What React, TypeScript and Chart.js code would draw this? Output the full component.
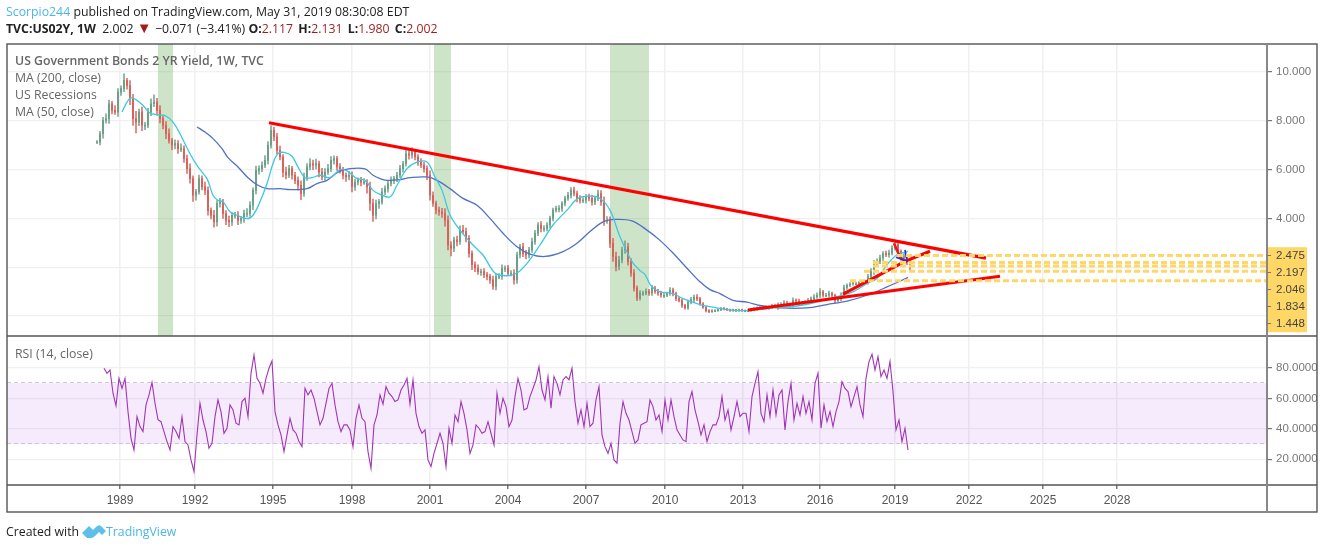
import React, { useEffect, useRef } from "react";
import { Chart, registerables } from "chart.js";

Chart.register(...registerables);

// x axis is measured in bar slots of the time axis
const xTickSlots = [120, 195, 273, 352, 430, 508, 586, 665, 743, 820, 895, 969, 1043, 1117];
const xTickLabels = ["1989", "1992", "1995", "1998", "2001", "2004", "2007", "2010", "2013", "2016", "2019", "2022", "2025", "2028"];
const priceTicks = [10, 8, 6, 4, 2, 0];
const rsiTicks = [80, 60, 40, 20];

const candleStart = 97;
const candleStep = 3;
const closes = [
  7.13, 7.47, 8.02, 8.09, 8.70, 8.43, 8.36, 9.18, 9.32, 9.66, 9.45, 8.91, 8.09, 7.95, 8.36, 7.82, 7.82, 8.36, 8.70, 8.77,
  8.43, 8.09, 7.82, 7.47, 7.20, 7.00, 7.07, 6.86, 6.86, 6.45, 6.04, 5.63, 4.95, 5.09, 5.63, 5.29, 5.15, 4.33, 4.13, 3.86,
  4.61, 4.68, 4.20, 3.92, 3.86, 4.13, 4.13, 3.92, 3.99, 4.20, 4.20, 4.54, 5.15, 5.97, 6.04, 6.18, 6.38, 7.00, 7.61, 7.34,
  6.79, 6.52, 5.90, 5.77, 6.04, 5.77, 5.56, 5.36, 5.02, 5.70, 6.11, 6.25, 6.18, 6.25, 5.90, 5.70, 5.90, 6.04, 6.38, 6.45,
  6.11, 5.97, 5.77, 5.70, 5.77, 5.29, 5.49, 5.56, 5.49, 5.49, 5.29, 4.61, 4.13, 4.61, 4.68,
  5.09, 5.22, 5.43, 5.56, 5.63, 5.77, 6.04, 6.24, 6.65, 6.59, 6.72, 6.52, 6.31, 6.18, 6.04, 5.77, 4.95, 4.61, 4.34, 4.27,
  4.20, 3.93, 2.91, 2.78, 3.12, 3.05, 3.52, 3.46, 3.18, 2.57, 2.10, 1.96, 1.82, 1.82, 1.69, 1.62, 1.48, 1.21, 1.62, 1.62,
  1.96, 1.96, 1.76, 1.76, 1.48, 2.50, 2.84, 2.57, 2.50, 2.71, 3.05, 3.39, 3.73, 3.59, 3.59, 3.73, 4.00, 4.34, 4.41, 4.41,
  4.61, 4.82, 4.95, 5.16, 5.02, 4.82, 4.75, 4.75, 4.88, 4.82, 4.68, 4.82, 5.02, 4.68, 3.93, 3.93, 2.98, 2.44, 2.03, 2.30,
  2.71, 2.84, 2.23, 1.76, 1.14, 0.73, 0.94, 0.94, 1.01, 0.94, 1.14, 1.01, 0.94,
  0.85, 0.85, 0.92, 1.06, 0.92, 0.71, 0.64, 0.43, 0.33, 0.57, 0.67, 0.78, 0.71, 0.50, 0.36, 0.22, 0.18, 0.22, 0.22, 0.25,
  0.32, 0.28, 0.25, 0.22, 0.25, 0.22, 0.25, 0.22, 0.22, 0.22, 0.25, 0.29, 0.33, 0.33, 0.36, 0.33, 0.36, 0.43, 0.43, 0.47,
  0.47, 0.53, 0.47, 0.43, 0.64, 0.61, 0.50, 0.53, 0.57, 0.64, 0.71, 0.78, 0.85, 0.99, 0.85, 0.85, 0.92, 0.85, 0.64, 0.71,
  0.85, 1.17, 1.26, 1.31, 1.33, 1.33, 1.36, 1.40, 1.40, 1.61, 1.82, 2.17, 2.24, 2.38, 2.56, 2.51, 2.58, 2.79, 2.93, 2.65,
  2.38, 2.44, 2.24, 2.00,
];
const upperWicks = [
  .06, .1, .12, .2, .15, .1, .2, .14, .12, .27, .08, .2, .18, .3, .12, .2, .12, .15, .2, .3,
  .15, .2, .12, .15, .2, .08, .15, .12, .2, .12, .15, .2, .12, .1, .15, .12, .2, .15, .1, .2,
  .12, .14, .1, .12, .18, .1, .12, .15, .1, .14, .2, .15, .1, .18, .12, .14, .2, .15, .2, .12,
  .15, .18, .1, .2, .14, .1, .12, .15, .18, .16, .14, .2, .14, .18, .1, .15, .14, .18, .16, .12,
  .1, .14, .12, .1, .16, .14, .12, .1, .12, .14, .1, .2, .18, .14, .1,
  .14, .12, .1, .14, .1, .12, .14, .1, .14, .12, .18, .12, .1, .14, .12, .12, .18, .14, .1, .12,
  .14, .2, .18, .14, .12, .16, .18, .2, .14, .12, .1, .12, .14, .1, .12, .1, .1, .16, .1, .12,
  .14, .1, .12, .1, .14, .12, .1, .14, .12, .1, .14, .12, .1, .14, .12, .1, .1, .08, .1, .12,
  .08, .1, .12, .1, .12, .1, .12, .1, .1, .12, .14, .1, .14, .12, .2, .15, .14, .2, .18, .15,
  .12, .24, .15, .12, .14, .1, .1, .08, .1, .08, .12, .08, .08,
  .08, .08, .06, .1, .08, .06, .08, .06, .05, .08, .1, .08, .1, .06, .05, .05, .04, .04, .04, .03,
  .03, .03, .03, .03, .03, .02, .03, .03, .03, .04, .04, .05, .05, .06, .05, .06, .06, .05, .06, .07,
  .08, .1, .08, .06, .1, .06, .08, .07, .06, .08, .08, .1, .1, .13, .06, .08, .1, .06, .05, .08,
  .1, .1, .06, .06, .05, .06, .06, .05, .07, .1, .12, .1, .1, .12, .08, .1, .12, .1, .12, .08,
  .06, .12, .08, .13,
];
const lowerWicks = [
  .05, .12, .18, .12, .2, .15, .1, .18, .14, .12, .15, .25, .28, .45, .15, .22, .18, .1, .15, .12,
  .2, .18, .15, .2, .12, .18, .15, .2, .12, .15, .2, .18, .25, .2, .1, .12, .18, .2, .15, .22,
  .18, .15, .2, .18, .2, .15, .12, .18, .12, .15, .14, .12, .18, .15, .16, .12, .1, .15, .12, .15,
  .14, .12, .2, .15, .1, .16, .14, .2, .25, .12, .14, .12, .18, .15, .2, .12, .14, .1, .12, .16,
  .14, .12, .15, .18, .12, .2, .14, .12, .16, .1, .25, .28, .25, .15, .2,
  .1, .12, .14, .1, .14, .12, .1, .14, .1, .16, .12, .12, .14, .1, .14, .18, .2, .12, .16, .15,
  .16, .25, .2, .32, .14, .18, .12, .1, .14, .16, .2, .14, .12, .16, .12, .14, .14, .12, .14, .1,
  .12, .14, .1, .12, .18, .14, .12, .14, .16, .12, .1, .12, .1, .14, .12, .1, .12, .1, .08, .14,
  .12, .1, .08, .12, .1, .14, .12, .1, .12, .1, .14, .12, .1, .15, .22, .14, .18, .2, .18, .14,
  .12, .14, .15, .14, .12, .1, .08, .1, .08, .1, .1, .08, .1,
  .08, .1, .06, .08, .1, .08, .06, .08, .05, .06, .08, .1, .08, .06, .05, .05, .04, .03, .04, .03,
  .03, .03, .03, .03, .03, .04, .03, .03, .03, .04, .03, .04, .05, .06, .05, .05, .06, .05, .06, .16,
  .06, .07, .08, .06, .06, .08, .07, .06, .08, .06, .08, .07, .06, .1, .08, .06, .08, .07, .1, .06,
  .08, .06, .08, .06, .05, .06, .06, .06, .05, .1, .1, .12, .08, .1, .1, .08, .1, .08, .08, .12,
  .1, .08, .14, .15,
];

const rsiStart = 104;
const rsiStep = 3;
const rsiValues = [
  79.8, 76.5, 78.7, 63.4, 55.2, 73.2, 66.6, 73.2, 51.3, 33.8, 26.1, 48, 41.5, 38.2, 55.7, 62.3, 70.5, 56.8, 46, 44.7,
  38.2, 31.6, 26.1, 41.5, 38.2, 33.8, 48, 31.6, 29.4, 19.6, 11.9, 36, 56.8, 45.8, 38.2, 27.2, 30.5, 48, 59, 51.3,
  37.1, 40.4, 55.7, 52.4, 43.7, 42.6, 57.9, 60.1, 48, 76.5, 88.5, 73.2, 69.9, 63.4, 73.2, 79.8, 84.6, 51.3, 42.6, 36,
  25, 36, 46.9, 39.3, 37.1, 31.6, 28.3, 66.6, 62.3, 65.5, 60.1, 51.3, 42.6, 46.9, 56.8, 66.6, 69.9, 55.7, 44.7, 38.2,
  42.6, 42.6, 39.3, 28.3, 46.9, 55.7, 46.9, 44.7, 25, 14.1,
  42.6, 49.1, 62.3, 56.2, 67.7, 63.4, 61.2, 57.9, 59, 65.5, 68.8, 73.2, 56.2, 72.1, 50.2, 41.5, 37.1, 39.3, 19.6, 15.2,
  23.9, 30.5, 37.1, 30.5, 15.2, 40.4, 30.5, 49.1, 44.7, 57.9, 50.2, 39.3, 23.9, 29.4, 42.6, 40.4, 37.1, 38.2, 44.7, 37.1,
  29.4, 63.4, 50.2, 60.1, 54.6, 41.5, 45.8, 61.2, 73.2, 65.5, 52.4, 53.5, 61.2, 66.6, 72.1, 80.9, 65.5, 59, 74.3, 53.5,
  74.3, 69.9, 62.3, 72.1, 74.3, 72.1, 79.8, 57.9, 43.7, 52.4, 41.5, 56.8, 41.5, 43.7, 59, 67.7, 36, 28.3, 23.9, 30.5,
  19.6, 17.4, 43.7, 57.9, 50.2, 45.8, 38.2, 30.5, 32.7, 42.6, 43.7, 44.7, 59,
  54.6, 45.8, 49.1, 38.2, 59, 45.8, 59, 48, 39.3, 36, 32.7, 31.6, 57.9, 64.5, 52.4, 44.7, 36, 42.6, 31.6, 38.2,
  42.6, 42.6, 48, 61.2, 45.8, 52.4, 39.3, 48, 57.9, 48, 50.2, 50.2, 38.2, 61.2, 69.9, 77.6, 50.2, 44.7, 62.3, 48,
  65.5, 49.1, 62.3, 65.5, 39.3, 57.9, 69.9, 45.8, 56.8, 49.1, 61.2, 50.2, 57.9, 45.8, 69.9, 76.5, 40.4, 55.7, 44.7, 51.3,
  41.5, 51.3, 57.9, 71, 66.6, 64.5, 54.6, 61.2, 67.7, 55.7, 48, 73.2, 84.2, 89, 78.7, 87.4, 74.3, 78.7, 73.2, 84.2,
  64.5, 39.3, 45.8, 31.6, 40.4, 26.1,
];

const ma50Slots = [122, 127, 131, 137, 143, 150, 158, 165, 173, 180, 190, 198, 207, 213, 218, 223, 230, 237, 247, 253, 260, 267, 273, 278, 285, 292, 298, 305, 312, 320, 330, 340, 347, 357, 365, 373, 380, 390, 397, 407, 417, 427, 435, 442, 450, 460, 473, 483, 495, 507, 517, 527, 540, 553, 567, 578, 590, 600, 610, 620, 632, 640, 645, 650, 655, 660, 673, 683, 700, 713, 727, 747, 773, 800, 827, 840, 853, 867, 877, 887, 897, 908];
const ma50Values = [8.36, 8.77, 8.94, 8.84, 8.63, 8.32, 8.25, 8.22, 7.95, 7.47, 6.65, 6.11, 5.63, 4.95, 4.74, 4.68, 4.27, 4.13, 3.99, 4.13, 4.68, 5.43, 6.25, 6.66, 6.70, 6.55, 6.11, 5.67, 5.67, 5.77, 5.67, 6.0, 5.95, 5.63, 5.56, 5.15, 4.99, 4.88, 5.36, 6.04, 6.31, 6.31, 5.70, 5.16, 4.14, 3.52, 2.91, 2.5, 1.76, 1.65, 1.76, 2.16, 2.91, 3.73, 4.34, 4.82, 4.91, 4.82, 4.34, 3.25, 2.23, 1.86, 1.7, 1.3, 1.1, 0.99, 0.92, 0.71, 0.47, 0.36, 0.26, 0.22, 0.33, 0.43, 0.68, 0.82, 0.99, 1.33, 1.54, 2.1, 2.51, 2.65];
const ma200Slots = [197, 205, 213, 222, 228, 238, 248, 258, 267, 280, 290, 307, 317, 327, 338, 350, 365, 373, 380, 387, 400, 410, 427, 437, 450, 463, 477, 490, 503, 517, 530, 545, 563, 577, 590, 603, 615, 632, 647, 660, 673, 687, 700, 710, 720, 733, 747, 760, 780, 807, 827, 847, 867, 887, 908];
const ma200Values = [7.75, 7.54, 7.27, 6.86, 6.49, 6.11, 5.67, 5.36, 5.22, 5.22, 5.18, 5.22, 5.43, 5.56, 5.9, 6.04, 6.03, 5.77, 5.63, 5.56, 5.59, 5.67, 5.7, 5.56, 5.22, 4.82, 4.54, 4.0, 3.39, 2.84, 2.54, 2.44, 2.64, 2.98, 3.46, 3.86, 3.96, 3.9, 3.52, 3.1, 2.58, 1.96, 1.4, 1.08, 0.92, 0.64, 0.57, 0.43, 0.33, 0.33, 0.47, 0.61, 0.85, 1.19, 1.58];

const recessionStarts = [158, 434, 610];
const recessionEnds = [173, 451, 649];

const trendMainSlots = [269, 986];
const trendMainValues = [7.92, 2.37];
const trendLowerSlots = [748, 1000];
const trendLowerValues = [0.245, 1.63];
const trendMidSlots = [843, 905, 930];
const trendMidValues = [0.9, 2.24, 2.65];
const dropSlots = [894, 900, 907];
const dropValues = [2.98, 2.41, 2.2];
const arrowASlots = [905, 907];
const arrowAValues = [2.71, 2.24];
const arrowBSlots = [896, 907];
const arrowBValues = [2.41, 2.24];

const levelValues = [2.475, 2.197, 2.046, 1.834, 1.448];
const levelStarts = [897, 873, 873, 864, 850];
const levelLabels = ["2.475", "2.197", "2.046", "1.834", "1.448"];
const levelEnd = 1267;

const GREEN = "#6a9f86";
const RED = "#d9605a";
const YELLOW = "#ffd766";
const UI = '"Open Sans", sans-serif';
const TICK = '"Liberation Sans", sans-serif';

function line(id: string, xs: number[], ys: number[], color: string, width: number, order: number, extra: any = {}) {
  return {
    type: "line" as const,
    label: id,
    data: xs.map((x, i) => ({ x, y: ys[i] })),
    borderColor: color,
    borderWidth: width,
    pointRadius: 0,
    tension: 0,
    yAxisID: "y",
    order,
    ...extra,
  };
}

const panePlugin = {
  id: "panes",
  beforeDatasetsDraw(chart: any) {
    const { ctx, scales } = chart;
    const x = scales.x, y = scales.y, r = scales.rsi;
    ctx.save();
    ctx.fillStyle = "rgba(90,165,75,0.30)";
    recessionStarts.forEach((s, i) => {
      const a = x.getPixelForValue(s);
      const b = x.getPixelForValue(recessionEnds[i]);
      ctx.fillRect(a, y.top, b - a, y.bottom - y.top);
    });
    const top = r.getPixelForValue(70);
    const bot = r.getPixelForValue(30);
    ctx.fillStyle = "rgba(155,60,235,0.10)";
    ctx.fillRect(x.left, top, x.right - x.left, bot - top);
    ctx.strokeStyle = "#cfc6d3";
    ctx.lineWidth = 1;
    ctx.setLineDash([4, 3]);
    [top, bot].forEach((p) => {
      ctx.beginPath();
      ctx.moveTo(x.left, Math.round(p) - 0.5);
      ctx.lineTo(x.right, Math.round(p) - 0.5);
      ctx.stroke();
    });
    ctx.restore();
  },
  afterDraw(chart: any) {
    const { ctx, scales } = chart;
    const x = scales.x, y = scales.y, r = scales.rsi;
    const outerRight = x.right + 50;
    ctx.save();
    ctx.fillStyle = YELLOW;
    ctx.fillRect(x.right + 1, y.getPixelForValue(2.82), 39, 85);
    ctx.strokeStyle = "#555";
    ctx.lineWidth = 1.4;
    ctx.strokeRect(x.left, y.top, outerRight - x.left, x.bottom - y.top);
    ctx.beginPath();
    ctx.moveTo(x.left, y.bottom);
    ctx.lineTo(outerRight, y.bottom);
    ctx.moveTo(x.left, r.bottom);
    ctx.lineTo(outerRight, r.bottom);
    ctx.stroke();
    ctx.strokeStyle = "#888";
    ctx.lineWidth = 2;
    ctx.beginPath();
    ctx.moveTo(x.right, y.top);
    ctx.lineTo(x.right, x.bottom);
    ctx.stroke();
    const first = y.getPixelForValue(2.82) + 8;
    ctx.fillStyle = "#444";
    ctx.font = `11.5px ${TICK}`;
    ctx.textBaseline = "middle";
    ctx.strokeStyle = "#777";
    ctx.lineWidth = 1;
    levelLabels.forEach((t, i) => {
      const py = Math.round(first + i * 17);
      ctx.beginPath();
      ctx.moveTo(x.right, py + 0.5);
      ctx.lineTo(x.right + 4, py + 0.5);
      ctx.stroke();
      ctx.fillText(t, x.right + 9, py + 0.5);
    });
    ctx.restore();
  },
};

const textStyle: React.CSSProperties = { position: "absolute", whiteSpace: "nowrap", fontFamily: UI };

export default function App() {
  const ref = useRef<HTMLCanvasElement>(null);
  useEffect(() => {
    const bars = closes.map((c, i) => {
      const o = i === 0 ? c : closes[i - 1];
      return {
        x: candleStart + i * candleStep,
        o,
        c,
        h: Math.max(o, c) + upperWicks[i],
        l: Math.min(o, c) - lowerWicks[i],
      };
    });
    const colors = bars.map((b) => (b.c >= b.o ? GREEN : RED));
    const levels = levelValues.map((v, i) =>
      line("level" + i, [levelStarts[i], levelEnd], [v, v], YELLOW, 3, 1, { borderDash: [6, 3] })
    );
    const chart = new Chart(ref.current!, {
      type: "bar",
      data: {
        datasets: [
          ...levels,
          line("arrowA", arrowASlots, arrowAValues, "#2430d8", 1.6, 2),
          line("arrowB", arrowBSlots, arrowBValues, "#2430d8", 1.6, 2),
          line("trendMain", trendMainSlots, trendMainValues, "#ff0000", 3.2, 3),
          line("trendLower", trendLowerSlots, trendLowerValues, "#ff0000", 3.2, 3),
          line("trendMid", trendMidSlots, trendMidValues, "#ff0000", 3.2, 3),
          line("drop", dropSlots, dropValues, "#f01818", 2.6, 3),
          line("MA 50", ma50Slots, ma50Values, "#3cc8e0", 1.3, 4, { tension: 0.35 }),
          line("MA 200", ma200Slots, ma200Values, "#4f70c4", 1.3, 4, { tension: 0.35 }),
          {
            type: "bar" as const,
            label: "body",
            data: bars.map((b) => ({ x: b.x, y: [b.o, b.c] })) as any,
            backgroundColor: colors,
            barThickness: 1.2,
            minBarLength: 1,
            grouped: false,
            yAxisID: "y",
            order: 5,
          },
          {
            type: "bar" as const,
            label: "wick",
            data: bars.map((b) => ({ x: b.x, y: [b.l, b.h] })) as any,
            backgroundColor: colors,
            barThickness: 0.8,
            grouped: false,
            yAxisID: "y",
            order: 6,
          },
          {
            type: "line" as const,
            label: "RSI",
            data: rsiValues.map((v, i) => ({ x: rsiStart + i * rsiStep, y: v })),
            borderColor: "#a035b5",
            borderWidth: 1.1,
            pointRadius: 0,
            tension: 0,
            yAxisID: "rsi",
            order: 2,
          },
        ],
      },
      options: {
        animation: false,
        responsive: false,
        devicePixelRatio: 1,
        parsing: undefined as any,
        plugins: { legend: { display: false }, tooltip: { enabled: false } },
        layout: { padding: { left: 7, top: 44, right: 13, bottom: 37 } },
        scales: {
          x: {
            type: "linear",
            min: 7,
            max: 1267,
            offset: false,
            afterBuildTicks: (s: any) => {
              s.ticks = xTickSlots.map((value) => ({ value }));
            },
            afterFit: (s: any) => {
              s.height = 27;
            },
            grid: { color: "#f0f0f0", lineWidth: 1.5, offset: false, tickColor: "#777", tickLength: 4 },
            border: { display: false },
            ticks: {
              autoSkip: false,
              maxRotation: 0,
              padding: 4,
              color: "#555",
              font: { family: TICK, size: 12 },
              callback: (v: any) => xTickLabels[xTickSlots.indexOf(v)] ?? "",
            },
          },
          y: {
            type: "linear",
            position: "right",
            stack: "panes",
            stackWeight: 292,
            weight: 1,
            min: -0.82,
            max: 11.15,
            afterBuildTicks: (s: any) => {
              s.ticks = priceTicks.map((value) => ({ value }));
            },
            afterFit: (s: any) => {
              s.width = 50;
            },
            grid: { color: "#f0f0f0", lineWidth: 1.2, tickColor: "#777", tickLength: 5 },
            border: { display: false },
            ticks: {
              padding: 4,
              color: "#777",
              font: { family: TICK, size: 11.5 },
              callback: (v: any) => (v >= 4 ? Number(v).toFixed(3) : ""),
            },
          },
          rsi: {
            type: "linear",
            position: "right",
            stack: "panes",
            stackWeight: 149,
            weight: 2,
            min: 3.1,
            max: 101,
            afterBuildTicks: (s: any) => {
              s.ticks = rsiTicks.map((value) => ({ value }));
            },
            afterFit: (s: any) => {
              s.width = 50;
            },
            grid: { color: "#f0f0f0", lineWidth: 1.2, tickColor: "#777", tickLength: 5 },
            border: { display: false },
            ticks: {
              padding: 4,
              color: "#777",
              font: { family: TICK, size: 11.5 },
              callback: (v: any) => Number(v).toFixed(4),
            },
          },
        },
      },
      plugins: [panePlugin],
    } as any);
    return () => chart.destroy();
  }, []);

  const red = { color: "#9e1c1c" };
  const gap = { marginLeft: 2 };
  return (
    <div style={{ position: "absolute", left: 0, top: 0, width: 1330, height: 549, background: "#fff", overflow: "hidden" }}>
      <canvas ref={ref} width={1330} height={549} style={{ position: "absolute", left: 0, top: 0 }} />
      <div style={{ ...textStyle, left: 6, top: 3, fontSize: 12.3, color: "#222" }}>
        <span style={{ color: "#4db6e6" }}>Scorpio244</span> published on TradingView.com, May 31, 2019 08:30:08 EDT
      </div>
      <div style={{ ...textStyle, left: 6, top: 20, fontSize: 12.3, color: "#222" }}>
        <b>TVC:US02Y, 1W</b>&nbsp; 2.002 <span style={{ ...red, fontSize: 15, lineHeight: "12px" }}>▼</span> −0.071 (−3.41%) <b>O:</b>
        <span style={red}>2.117</span> <b style={gap}>H:</b>
        <span style={red}>2.131</span> <b style={gap}>L:</b>
        <span style={red}>1.980</span> <b style={gap}>C:</b>
        <span style={red}>2.002</span>
      </div>
      <div style={{ ...textStyle, left: 15, top: 52, fontSize: 12.3, fontWeight: 600, color: "#666" }}>US Government Bonds 2 YR Yield, 1W, TVC</div>
      <div style={{ ...textStyle, left: 15, top: 69, fontSize: 12.3, color: "#666" }}>MA (200, close)</div>
      <div style={{ ...textStyle, left: 15, top: 86, fontSize: 12.3, color: "#666" }}>US Recessions</div>
      <div style={{ ...textStyle, left: 15, top: 103, fontSize: 12.3, color: "#666" }}>MA (50, close)</div>
      <div style={{ ...textStyle, left: 15, top: 345, fontSize: 12.3, color: "#666" }}>RSI (14, close)</div>
      <div style={{ ...textStyle, left: 6, top: 523, fontSize: 12.3, color: "#222" }}>Created with</div>
      <svg style={{ position: "absolute", left: 82, top: 524 }} width="24" height="16" viewBox="0 0 24 16">
        <path d="M0 9 L7 2 L11 6 L14 3 Q17 0 19 2 L24 7 L20 11 L17 8 L13 12 Q11 14 9 14 L5 14 Z" fill="#5cc0e8" />
      </svg>
      <div style={{ ...textStyle, left: 106, top: 523, fontSize: 12.3, color: "#4db6e6" }}>TradingView</div>
    </div>
  );
}
